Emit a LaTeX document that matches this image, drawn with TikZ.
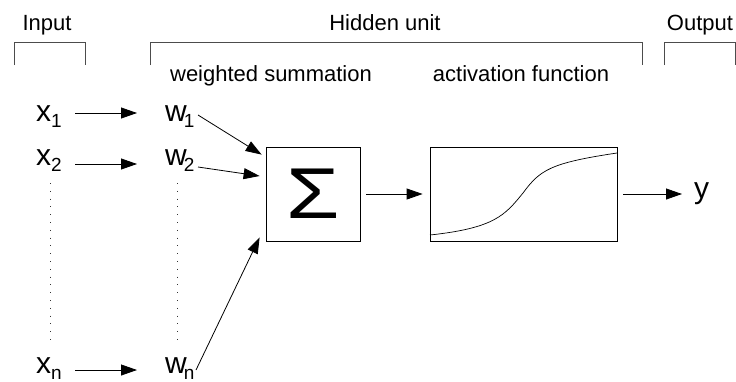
\documentclass[tikz,border=0pt]{standalone}
\usepackage{fontspec}
\setmainfont{Liberation Sans}
\usetikzlibrary{arrows.meta,calc}
\tikzset{
  lbl/.style={font=\fontsize{22}{26}\selectfont, inner sep=0pt, anchor=base},
  var/.style={font=\fontsize{30}{34}\selectfont, inner sep=0pt, anchor=base west},
  arr/.style={-{Triangle[length=16pt,width=11pt]}, line width=0.8pt},
  brk/.style={line width=0.8pt, draw=black!70},
  dotline/.style={line width=1pt, dash pattern=on 0.8pt off 7pt, draw=black!80},
  boxn/.style={draw, line width=0.8pt, inner sep=0pt}
}
\newcommand{\mysub}[1]{\raisebox{-6pt}{\fontsize{19}{22}\selectfont #1}}
\begin{document}
\begin{tikzpicture}[x=1pt,y=-1pt]
\useasboundingbox (0,0) rectangle (736,381);
% headers
\node[lbl] (inp) at (47,30) {Input};
\node[lbl] (hid) at (385,30) {Hidden unit};
\node[lbl] (out) at (700,30) {Output};
\node[lbl] (ws) at (271,81) {weighted summation};
\node[lbl] (af) at (521,81) {activation function};
% brackets
\draw[brk] (14,65) -- (14,42) -- (85,42) -- (85,65);
\draw[brk] (150,65) -- (150,42) -- (642,42) -- (642,65);
\draw[brk] (664,65) -- (664,42) -- (735,42) -- (735,65);
% inputs
\node[var] (x1) at (36,121) {x\mysub{1}};
\node[var] (x2) at (36,165) {x\mysub{2}};
\node[var] (xn) at (36,373) {x\mysub{n}};
\node[var] (w1) at (165,121) {w\kern-3pt\mysub{1}};
\node[var] (w2) at (165,165) {w\kern-3pt\mysub{2}};
\node[var] (wn) at (165,373) {w\kern-3pt\mysub{n}};
\draw[arr] ($(x1.base west)+(39,-8)$) -- ($(w1.base west)+(-28,-8)$);
\draw[arr] ($(x2.base west)+(39,-1)$) -- ($(w2.base west)+(-28,-1)$);
\draw[arr] ($(xn.base west)+(39,-3)$) -- ($(wn.base west)+(-28,-3)$);
\draw[dotline] ($(x2.base west)+(14,18)$) -- ($(xn.base west)+(14,-33)$);
\draw[dotline] ($(w2.base west)+(12,18)$) -- ($(wn.base west)+(12,-33)$);
% boxes
\node[boxn, minimum width=94pt, minimum height=94pt] (sum) at (313,194)
  {\scalebox{1.2}[1]{\fontsize{72}{72}\selectfont Σ}};
\node[boxn, minimum width=187pt, minimum height=94pt] (act) at (523.5,194) {};
\draw[line width=0.7pt] (430,235) .. controls (495,228) and (505,215) .. (523,193)
  .. controls (540,170) and (550,163) .. (617,153);
\draw[arr] ($(w1.base west)+(33,-6)$) -- ($(sum.north west)+(-4,8)$);
\draw[arr] ($(w2.base west)+(33,2)$) -- ($(sum.west)+(-6,-18)$);
\draw[arr] ($(wn.base west)+(31,-3)$) -- ($(sum.south west)+(-6,-4)$);
\draw[arr, shorten <=6pt, shorten >=7pt] (sum) -- (act);
\node[var] (y) at (694,198) {y};
\draw[arr, shorten <=6pt, shorten >=12pt] (act.east) -- (act.east -| y.west);
\end{tikzpicture}
\end{document}
